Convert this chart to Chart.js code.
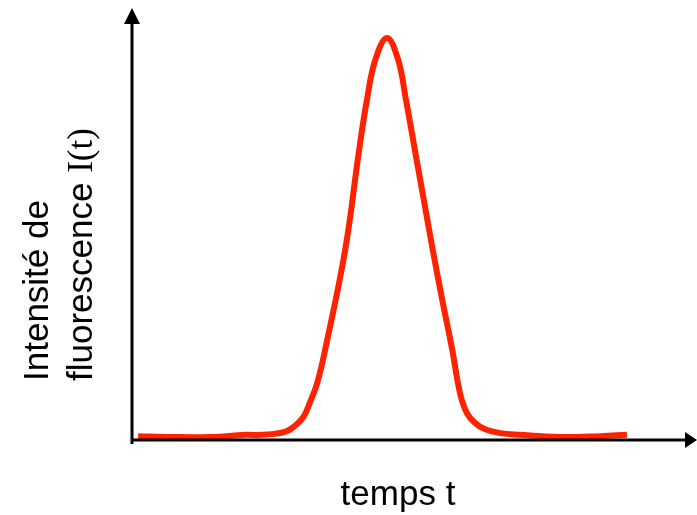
<!DOCTYPE html>
<html>
<head>
<meta charset="utf-8">
<script src="https://cdn.jsdelivr.net/npm/chart.js@4/dist/chart.umd.min.js"></script>
<style>
  body { margin: 0; background: #fff; }
  #wrap { width: 697px; height: 515px; position: relative; }
</style>
</head>
<body>
<div id="wrap"><canvas id="fluo-chart"></canvas></div>
<script>
// time (arbitrary units) and fluorescence intensity
var temps = [1.1, 6.8, 14.0, 20.3, 23.3, 27.4, 29.2, 30.7, 31.9, 33.2, 34.6, 38.2, 40.7, 42.1, 43.6, 45.7,
             47.7, 49.1, 50.7, 52.3, 53.9, 55.6, 57.4, 58.4, 59.1, 60.0, 61.3, 63.1, 66.0, 69.5, 76.7, 83.9, 88.7];
var intensite = [0.9, 0.7, 0.7, 1.2, 1.2, 1.9, 3.3, 5.3, 8.8, 13.3, 20.9, 44.2, 67.4, 79.1, 88.4, 93.5,
                 88.4, 79.1, 67.4, 55.8, 44.2, 32.6, 20.9, 13.3, 9.3, 6.3, 4.2, 2.6, 1.6, 1.2, 0.7, 0.9, 1.2];

var xLabel = 'temps t';
var yLabel1 = 'Intensité de';
var yLabel2 = 'fluorescence ';
var yLabel2b = 'I(t)';

var points = [];
for (var i = 0; i < temps.length; i++) {
    points.push({ x: temps[i], y: intensite[i] });
}

var axesPlugin = {
    id: 'axesArrows',
    afterDraw: function (chart) {
        var ctx = chart.ctx,
            area = chart.chartArea,
            x0 = area.left,
            y0 = area.bottom;
        ctx.save();
        ctx.strokeStyle = '#000';
        ctx.fillStyle = '#000';
        ctx.lineWidth = 3;
        // y axis
        ctx.beginPath();
        ctx.moveTo(x0, y0 + 4);
        ctx.lineTo(x0, area.top + 10);
        ctx.stroke();
        ctx.beginPath();
        ctx.moveTo(x0, area.top - 2);
        ctx.lineTo(x0 - 8, area.top + 14);
        ctx.lineTo(x0 + 8, area.top + 14);
        ctx.closePath();
        ctx.fill();
        // x axis
        ctx.beginPath();
        ctx.moveTo(x0 - 1, y0);
        ctx.lineTo(area.right - 2, y0);
        ctx.stroke();
        ctx.beginPath();
        ctx.moveTo(area.right + 7, y0);
        ctx.lineTo(area.right - 5, y0 - 8);
        ctx.lineTo(area.right - 5, y0 + 8);
        ctx.closePath();
        ctx.fill();

        // titles
        ctx.font = '35px "Liberation Sans", Arial, sans-serif';
        ctx.textBaseline = 'alphabetic';
        ctx.textAlign = 'center';
        ctx.fillText(xLabel, 398, 505);

        ctx.textAlign = 'left';
        ctx.save();
        ctx.translate(48, 381);
        ctx.rotate(-Math.PI / 2);
        ctx.fillText(yLabel1, 0, 0);
        ctx.restore();

        ctx.save();
        ctx.translate(92, 381);
        ctx.rotate(-Math.PI / 2);
        ctx.fillText(yLabel2, 0, 0);
        var w = ctx.measureText(yLabel2).width;
        ctx.font = '35px "Liberation Serif", "Times New Roman", serif';
        ctx.fillText(yLabel2b, w, 0);
        ctx.restore();

        ctx.restore();
    }
};

var fluoChart = new Chart(document.getElementById('fluo-chart'), {
    type: 'line',
    data: {
        datasets: [
            {
                label: 'I(t)',
                data: points,
                borderColor: 'rgb(255, 34, 0)',
                borderWidth: 6,
                pointRadius: 0,
                tension: 0.4,
                fill: false
            }
        ]
    },
    options: {
        responsive: true,
        maintainAspectRatio: false,
        animation: false,
        layout: { padding: { left: 132, top: 10, right: 7, bottom: 75 } },
        plugins: { legend: { display: false }, tooltip: { enabled: false } },
        scales: {
            x: { type: 'linear', min: 0, max: 100, display: false },
            y: { min: 0, max: 100, display: false }
        }
    },
    plugins: [axesPlugin]
});
</script>
</body>
</html>
